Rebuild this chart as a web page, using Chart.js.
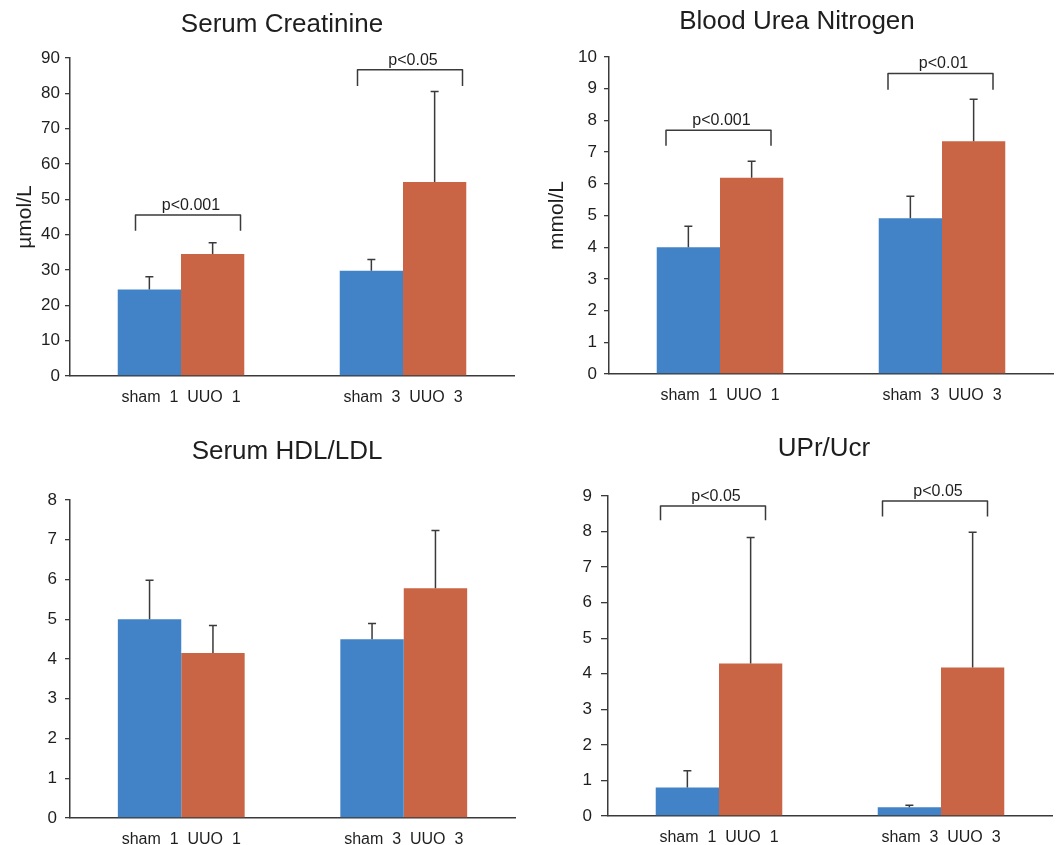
<!DOCTYPE html>
<html>
<head>
<meta charset="utf-8">
<script src="https://cdn.jsdelivr.net/npm/chart.js@4.4.1/dist/chart.umd.min.js"></script>
<style>
  body { margin: 0; background: #fff; }
  .panel { position: absolute; }
</style>
</head>
<body>
<div class="panel" style="left:0;top:0"><canvas id="creat" width="530" height="420"></canvas></div>
<div class="panel" style="left:530px;top:0"><canvas id="bun" width="530" height="420"></canvas></div>
<div class="panel" style="left:0;top:420px"><canvas id="hdl" width="530" height="425"></canvas></div>
<div class="panel" style="left:530px;top:420px"><canvas id="upr" width="530" height="425"></canvas></div>
<script>
const groupLabels = ['sham  1  UUO  1', 'sham  3  UUO  3'];

// Serum Creatinine (µmol/L)
const creatSham = [24.5, 29.8];
const creatShamErr = [3.6, 3.2];
const creatUuo = [34.5, 54.9];
const creatUuoErr = [3.2, 25.6];
const creatBrackets = [
    { group: 0, top: 45.6, leg: 41.1, text: 'p<0.001' },
    { group: 1, top: 86.7, leg: 82.1, text: 'p<0.05' }
];

// Blood Urea Nitrogen (mmol/L)
const bunSham = [4.0, 4.91];
const bunShamErr = [0.66, 0.7];
const bunUuo = [6.19, 7.34];
const bunUuoErr = [0.52, 1.33];
const bunBrackets = [
    { group: 0, top: 7.69, leg: 7.2, text: 'p<0.001' },
    { group: 1, top: 9.48, leg: 8.97, text: 'p<0.01' }
];

// Serum HDL/LDL
const hdlSham = [5.0, 4.5];
const hdlShamErr = [0.98, 0.39];
const hdlUuo = [4.15, 5.78];
const hdlUuoErr = [0.69, 1.45];

// UPr/Ucr
const uprSham = [0.8, 0.245];
const uprShamErr = [0.47, 0.06];
const uprUuo = [4.29, 4.18];
const uprUuoErr = [3.54, 3.8];
const uprBrackets = [
    { group: 0, top: 8.72, leg: 8.32, text: 'p<0.05' },
    { group: 1, top: 8.86, leg: 8.42, text: 'p<0.05' }
];

const BLUE = '#4283c8';
const ORANGE = '#c96445';
const INK = '#1e1e1e';
const LINE = '#3a3a3a';
const FONT = "'Liberation Sans', Arial, sans-serif";

Chart.defaults.font.family = FONT;
Chart.defaults.color = INK;

// error bars, significance brackets and panel title
const decor = {
    id: 'decor',
    afterDatasetsDraw(chart, args, opts) {
        const ctx = chart.ctx;
        const yScale = chart.scales.y;
        const xScale = chart.scales.x;
        ctx.save();
        ctx.strokeStyle = LINE;
        ctx.lineWidth = 1.5;
        chart.data.datasets.forEach((ds, di) => {
            chart.getDatasetMeta(di).data.forEach((bar, i) => {
                const top = yScale.getPixelForValue(ds.data[i] + ds.err[i]);
                ctx.beginPath();
                ctx.moveTo(bar.x, bar.y);
                ctx.lineTo(bar.x, top);
                ctx.moveTo(bar.x - 4, top);
                ctx.lineTo(bar.x + 4, top);
                ctx.stroke();
            });
        });

        ctx.fillStyle = INK;
        ctx.font = '16px ' + FONT;
        ctx.textAlign = 'center';
        ctx.textBaseline = 'alphabetic';
        ctx.lineJoin = 'round';
        (opts.brackets || []).forEach(b => {
            const cx = xScale.getPixelForValue(b.group) + opts.shift;
            const x0 = cx - opts.half;
            const x1 = cx + opts.half;
            const yt = yScale.getPixelForValue(b.top);
            const yl = yScale.getPixelForValue(b.leg);
            ctx.beginPath();
            ctx.moveTo(x0, yl);
            ctx.lineTo(x0, yt);
            ctx.lineTo(x1, yt);
            ctx.lineTo(x1, yl);
            ctx.stroke();
            ctx.fillText(b.text, cx + 3, yt - 5);
        });

        ctx.font = '26px ' + FONT;
        ctx.fillText(opts.title, opts.titleX, opts.titleY);
        ctx.restore();
    }
};

function makeChart(id, cfg) {
    return new Chart(document.getElementById(id), {
        type: 'bar',
        data: {
            labels: groupLabels,
            datasets: [
                { label: 'sham', data: cfg.sham, err: cfg.shamErr, backgroundColor: BLUE },
                { label: 'UUO', data: cfg.uuo, err: cfg.uuoErr, backgroundColor: ORANGE }
            ]
        },
        options: {
            responsive: false,
            animation: false,
            layout: { padding: { left: 0, top: cfg.top, right: cfg.right, bottom: 0 } },
            datasets: { bar: { categoryPercentage: 0.57, barPercentage: 1 } },
            plugins: {
                legend: { display: false },
                tooltip: { enabled: false },
                decor: {
                    title: cfg.title, titleX: cfg.titleX, titleY: cfg.titleY,
                    brackets: cfg.brackets, shift: cfg.shift || 0, half: 52.5
                }
            },
            scales: {
                x: {
                    grid: { display: false },
                    border: { color: LINE, width: 1.5 },
                    ticks: { padding: 4, font: { size: 16 } },
                    afterFit(scale) { scale.height = cfg.xHeight; }
                },
                y: {
                    min: 0,
                    max: cfg.max,
                    ticks: { stepSize: cfg.step, padding: cfg.tickPad, font: { size: 17 } },
                    grid: { drawOnChartArea: false, tickLength: cfg.tickLen, color: LINE, lineWidth: 1.3 },
                    border: { color: LINE, width: 1.5 },
                    title: {
                        display: !!cfg.yTitle,
                        text: cfg.yTitle,
                        font: { size: 21 },
                        padding: { top: cfg.yTitlePad, bottom: 0 }
                    },
                    afterFit(scale) { scale.width = cfg.axisX; }
                }
            }
        },
        plugins: [decor]
    });
}

makeChart('creat', {
    sham: creatSham, shamErr: creatShamErr, uuo: creatUuo, uuoErr: creatUuoErr,
    brackets: creatBrackets, shift: 7,
    title: 'Serum Creatinine', titleX: 282, titleY: 32,
    max: 90, step: 10, tickPad: 5, tickLen: 5,
    yTitle: 'µmol/L', yTitlePad: 13, axisX: 70,
    top: 58, right: 16, xHeight: 44
});

makeChart('bun', {
    sham: bunSham, shamErr: bunShamErr, uuo: bunUuo, uuoErr: bunUuoErr,
    brackets: bunBrackets, shift: -1.5,
    title: 'Blood Urea Nitrogen', titleX: 267, titleY: 29,
    max: 10, step: 1, tickPad: 7, tickLen: 5,
    yTitle: 'mmol/L', yTitlePad: 15, axisX: 79,
    top: 57, right: 7, xHeight: 46
});

makeChart('hdl', {
    sham: hdlSham, shamErr: hdlShamErr, uuo: hdlUuo, uuoErr: hdlUuoErr,
    brackets: [],
    title: 'Serum HDL/LDL', titleX: 287, titleY: 38.5,
    max: 8, step: 1, tickPad: 8, tickLen: 5,
    yTitle: '', yTitlePad: 0, axisX: 70,
    top: 80, right: 15, xHeight: 27
});

makeChart('upr', {
    sham: uprSham, shamErr: uprShamErr, uuo: uprUuo, uuoErr: uprUuoErr,
    brackets: uprBrackets, shift: -6,
    title: 'UPr/Ucr', titleX: 294, titleY: 35.5,
    max: 9, step: 1, tickPad: 9, tickLen: 7,
    yTitle: '', yTitlePad: 0, axisX: 78,
    top: 76, right: 8, xHeight: 29
});
</script>
</body>
</html>
